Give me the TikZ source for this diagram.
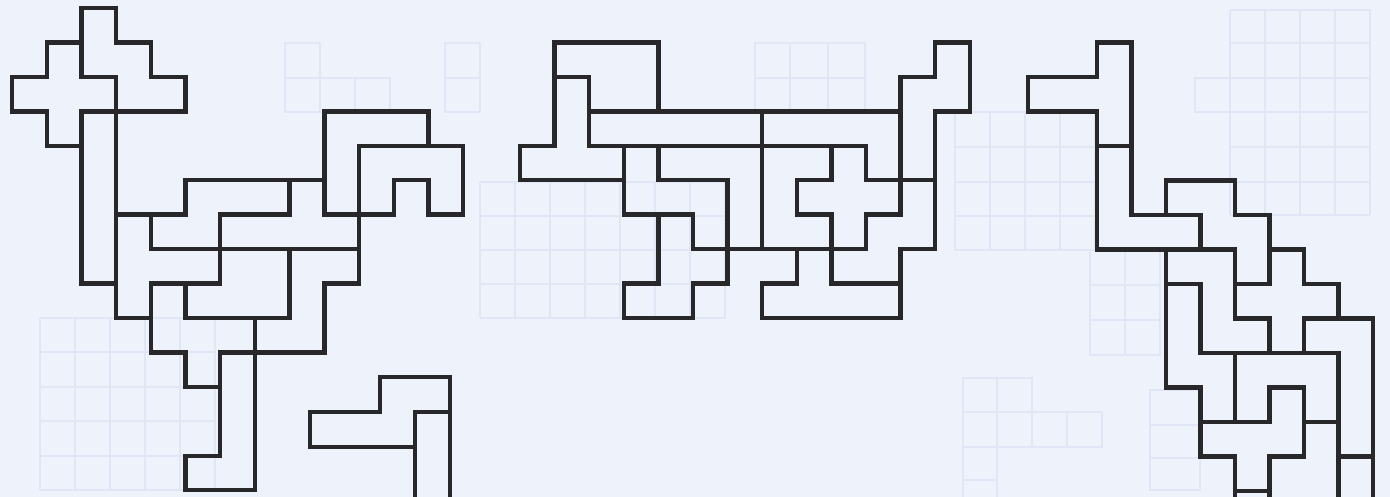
\documentclass[tikz,border=0pt]{standalone}
\usepackage{tikz}
\definecolor{bg}{RGB}{238,242,251}
\definecolor{ink}{RGB}{40,40,42}
\definecolor{ghostc}{RGB}{224,230,245}
\tikzset{
  piece/.style={draw=ink,line width=2.2pt,line join=miter},
  ghost/.style={draw=ghostc,line width=1.4pt}
}
\begin{document}
\begin{tikzpicture}[x=0.5pt,y=-0.5pt]
\fill[bg] (0,0) rectangle (1390,497);
\useasboundingbox (0,0) rectangle (1390,497);
\clip (0,0) rectangle (1390,497);

% ---------------- faint show-through grids ----------------
\begin{scope}[ghost]
% lower left
\foreach \x in {40,75,110,145,180,215} \draw (\x,318) -- (\x,490);
\foreach \y in {318,352,387,421,456,490} \draw (40,\y) -- (215,\y);
% upper left
\draw (285,43) rectangle (320,112); \draw (285,78) -- (320,78);
\draw (320,78) rectangle (390,112); \draw (355,78) -- (355,112);
\draw (445,43) rectangle (480,112); \draw (445,78) -- (480,78);
% middle
\foreach \x in {480,515,550,585,620,655,690,725} \draw (\x,182) -- (\x,318);
\foreach \y in {182,216,250,284,318} \draw (480,\y) -- (725,\y);
\draw (755,43) rectangle (865,112); \draw (790,43) -- (790,112); \draw (828,43) -- (828,112); \draw (755,78) -- (865,78);
% right middle
\foreach \x in {955,990,1025,1060,1095} \draw (\x,112) -- (\x,250);
\foreach \y in {112,147,182,216,250} \draw (955,\y) -- (1095,\y);
% upper right
\foreach \x in {1230,1265,1300,1335,1370} \draw (\x,10) -- (\x,215);
\foreach \y in {10,43,78,112,147,182,215} \draw (1230,\y) -- (1370,\y);
\draw (1195,78) rectangle (1230,112);
% lower right
\draw (963,378) rectangle (1032,412); \draw (997,378) -- (997,412);
\draw (963,412) rectangle (1102,447);
\foreach \x in {997,1032,1067} \draw (\x,412) -- (\x,447);
\draw (963,447) -- (963,497); \draw (997,447) -- (997,497);
\draw (963,480) -- (997,480);
\draw (1090,250) rectangle (1160,355); \draw (1125,250) -- (1125,355);
\draw (1090,285) -- (1160,285); \draw (1090,320) -- (1160,320);
\draw (1150,390) rectangle (1200,490); \draw (1150,425) -- (1200,425); \draw (1150,458) -- (1200,458);
\end{scope}

% ---------------- left figure ----------------
\begin{scope}[shift={(6pt,-4pt)},x={(17.35pt,0pt)},y={(0pt,-17.22pt)}]
\draw[piece] (2,0)--(3,0)--(3,1)--(4,1)--(4,2)--(5,2)--(5,3)--(3,3)--(3,2)--(2,2)--cycle; % W
\draw[piece] (1,1)--(2,1)--(2,2)--(3,2)--(3,3)--(2,3)--(2,4)--(1,4)--(1,3)--(0,3)--(0,2)--(1,2)--cycle; % X
\draw[piece] (2,3) rectangle (3,8); % I
\draw[piece] (9,3)--(12,3)--(12,4)--(10,4)--(10,6)--(9,6)--cycle; % V
\draw[piece] (10,4)--(13,4)--(13,6)--(12,6)--(12,5)--(11,5)--(11,6)--(10,6)--cycle; % U
\draw[piece] (5,5)--(8,5)--(8,6)--(6,6)--(6,7)--(4,7)--(4,6)--(5,6)--cycle; % N
\draw[piece] (8,5)--(9,5)--(9,6)--(10,6)--(10,7)--(6,7)--(6,6)--(8,6)--cycle; % Y
\draw[piece] (3,6)--(4,6)--(4,7)--(6,7)--(6,8)--(4,8)--(4,9)--(3,9)--cycle; % T
\draw[piece] (6,7)--(8,7)--(8,9)--(5,9)--(5,8)--(6,8)--cycle; % P
\draw[piece] (8,7)--(10,7)--(10,8)--(9,8)--(9,10)--(7,10)--(7,9)--(8,9)--cycle; % S
\draw[piece] (4,8)--(5,8)--(5,9)--(7,9)--(7,10)--(6,10)--(6,11)--(5,11)--(5,10)--(4,10)--cycle; % F
\draw[piece] (6,10)--(7,10)--(7,14)--(5,14)--(5,13)--(6,13)--cycle; % L
\end{scope}

% small piece below
\begin{scope}[shift={(155pt,-188.5pt)},x={(17.5pt,0pt)},y={(0pt,-17.5pt)}]
\draw[piece] (2,0)--(4,0)--(4,1)--(3,1)--(3,2)--(0,2)--(0,1)--(2,1)--cycle;
\draw[piece] (3,4)--(3,1)--(4,1)--(4,4);
\end{scope}

% ---------------- middle figure ----------------
\begin{scope}[shift={(260pt,-4pt)},x={(17.3pt,0pt)},y={(0pt,-17.22pt)}]
\draw[piece] (1,1)--(4,1)--(4,3)--(2,3)--(2,2)--(1,2)--cycle; % P
\draw[piece] (1,2)--(2,2)--(2,4)--(3,4)--(3,5)--(0,5)--(0,4)--(1,4)--cycle; % T
\draw[piece] (2,3) rectangle (7,4); % I
\draw[piece] (7,3)--(11,3)--(11,5)--(10,5)--(10,4)--(7,4)--cycle; % L
\draw[piece] (12,1)--(13,1)--(13,3)--(12,3)--(12,5)--(11,5)--(11,2)--(12,2)--cycle; % N
\draw[piece] (9,4)--(10,4)--(10,5)--(11,5)--(11,6)--(10,6)--(10,7)--(9,7)--(9,6)--(8,6)--(8,5)--(9,5)--cycle; % X
\draw[piece] (11,5)--(12,5)--(12,7)--(11,7)--(11,8)--(9,8)--(9,7)--(10,7)--(10,6)--(11,6)--cycle; % W
\draw[piece] (3,4)--(4,4)--(4,5)--(6,5)--(6,7)--(5,7)--(5,6)--(3,6)--cycle; % Z
\draw[piece] (4,4)--(7,4)--(7,7)--(6,7)--(6,5)--(4,5)--cycle; % V
\draw[piece] (7,4)--(9,4)--(9,5)--(8,5)--(8,6)--(9,6)--(9,7)--(7,7)--cycle; % U
\draw[piece] (4,6)--(5,6)--(5,7)--(6,7)--(6,8)--(5,8)--(5,9)--(3,9)--(3,8)--(4,8)--cycle; % F
\draw[piece] (8,7)--(9,7)--(9,8)--(11,8)--(11,9)--(7,9)--(7,8)--(8,8)--cycle; % Y
\end{scope}

% ---------------- right figure ----------------
\begin{scope}[shift={(514pt,-4pt)},x={(17.25pt,0pt)},y={(0pt,-17.25pt)}]
\draw[piece] (2,1)--(3,1)--(3,4)--(2,4)--(2,3)--(0,3)--(0,2)--(2,2)--cycle; % T
\draw[piece] (2,4)--(3,4)--(3,6)--(5,6)--(5,7)--(2,7)--cycle; % V
\draw[piece] (4,5)--(6,5)--(6,6)--(7,6)--(7,8)--(6,8)--(6,7)--(5,7)--(5,6)--(4,6)--cycle; % W
\draw[piece] (7,7)--(8,7)--(8,8)--(9,8)--(9,9)--(8,9)--(8,10)--(7,10)--(7,9)--(6,9)--(6,8)--(7,8)--cycle; % X
\draw[piece] (4,7)--(6,7)--(6,9)--(7,9)--(7,10)--(5,10)--(5,8)--(4,8)--cycle; % Z
\draw[piece] (4,8)--(5,8)--(5,10)--(6,10)--(6,12)--(5,12)--(5,11)--(4,11)--cycle; % N
\draw[piece] (6,10)--(9,10)--(9,12)--(8,12)--(8,11)--(7,11)--(7,12)--(6,12)--cycle; % U
\draw[piece] (5,12)--(7,12)--(7,11)--(8,11)--(8,13)--(7,13)--(7,14)--(6,14)--(6,13)--(5,13)--cycle; % F
\draw[piece] (8,9)--(10,9)--(10,13)--(9,13)--(9,10)--(8,10)--cycle; % L
\draw[piece] (9,13)--(9,15); \draw[piece] (10,13)--(10,15);
\draw[piece] (6,14)--(6,15); \draw[piece] (7,14)--(7,15);
\end{scope}
\end{tikzpicture}
\end{document}
